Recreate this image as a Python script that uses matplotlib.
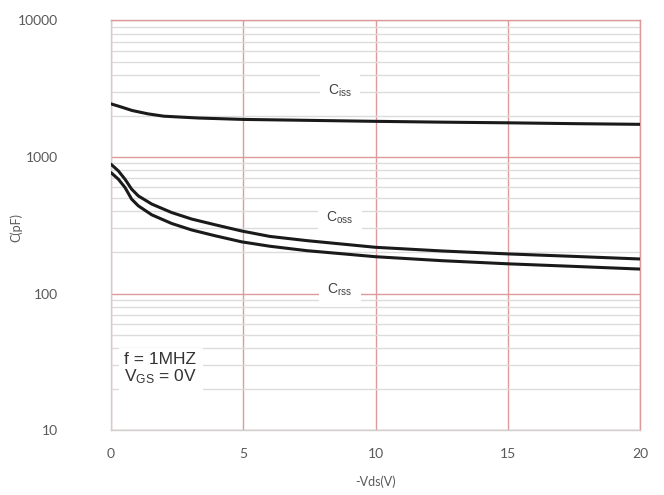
import numpy as np
import matplotlib
matplotlib.use("Agg")
import matplotlib.pyplot as plt
from matplotlib.ticker import FixedLocator, NullFormatter

plt.rcParams['font.family'] = ['Lato', 'DejaVu Sans']
plt.rcParams['mathtext.fontset'] = 'custom'
plt.rcParams['mathtext.rm'] = 'Liberation Sans'
plt.rcParams['mathtext.it'] = 'Liberation Sans'

# capacitance vs -Vds
vds_ciss = [0, 0.4, 0.8, 1.4, 2.0, 3.3, 5, 7.5, 10, 12.5, 15, 17.5, 20]
ciss = [2450, 2320, 2190, 2070, 1990, 1930, 1885, 1855, 1825, 1800, 1780, 1755, 1735]

vds = [0, 0.28, 0.53, 0.78, 1.03, 1.54, 2.29, 3.05, 3.93, 4.94, 6, 7.4, 10, 12.5, 15, 17.5, 20]
coss = [885, 790, 687, 581, 519, 452, 392, 351, 319, 287, 262, 244, 218, 205, 195, 187, 179]
crss = [768, 687, 597, 491, 439, 377, 326, 292, 265, 239, 222, 206, 186, 174, 165, 158, 151]

xticks = [0, 5, 10, 15, 20]
yticks = [10, 100, 1000, 10000]

red = '#dd9a9a'
gray = '#dcdcdc'
txt = '#5a5a5a'

fig = plt.figure(figsize=(6.64, 4.95), dpi=100)
ax = fig.add_axes([0.1672, 0.1313, 0.7967, 0.8273])

for x, y in [(vds_ciss, ciss), (vds, coss), (vds, crss)]:
    ax.plot(x, y, color='#1a1a1a', lw=2.2, zorder=5,
            solid_joinstyle='round', solid_capstyle='round')

ax.set_yscale('log')
ax.set_xlim(0, 20)
ax.set_ylim(10, 10000)
ax.set_xticks(xticks)
ax.set_yticks(yticks)
ax.set_yticklabels([str(v) for v in yticks])
minors = [m * 10 ** e for e in range(1, 4) for m in range(2, 10)]
ax.yaxis.set_minor_locator(FixedLocator(minors))
ax.yaxis.set_minor_formatter(NullFormatter())

ax.grid(True, which='minor', axis='y', color=gray, lw=1.0, zorder=1)
ax.grid(True, which='major', axis='y', color=red, lw=1.0, zorder=2)
ax.grid(True, which='major', axis='x', color=red, lw=1.0, zorder=2)

ax.tick_params(which='both', length=0)
ax.tick_params(axis='y', pad=38, labelsize=10, labelcolor=txt)
ax.tick_params(axis='x', pad=13, labelsize=10, labelcolor=txt)

for s in ['top', 'right']:
    ax.spines[s].set_color(red)
for s in ['left', 'bottom']:
    ax.spines[s].set_color('#cfcfcf')
for s in ax.spines.values():
    s.set_linewidth(1.0)
    s.set_zorder(3)

ax.set_ylabel('C(pF)', fontsize=9, color=txt)
ax.yaxis.set_label_coords(-0.167, 0.495)
ax.set_xlabel('-Vds(V)', fontsize=9, color=txt)
ax.xaxis.set_label_coords(0.5, -0.112)

box = dict(facecolor='white', edgecolor='none', pad=6)
lab = dict(fontsize=10, color='#404040', ha='center', va='center', bbox=box, zorder=4,
           family='Liberation Sans')
ax.text(8.65, 3050, r'C$_{\mathrm{iss}}$', **lab)
ax.text(8.65, 360, r'C$_{\mathrm{oss}}$', **lab)
ax.text(8.65, 106, r'C$_{\mathrm{rss}}$', **lab)
ax.text(0.5, 28, 'f = 1MHZ\nV$_{\\mathrm{GS}}$ = 0V', fontsize=12.5, color='#333333',
        ha='left', va='center', linespacing=1.05, family='Liberation Sans',
        bbox=dict(facecolor='white', edgecolor='none', pad=4), zorder=4)

fig.savefig('out.png', dpi=100)
